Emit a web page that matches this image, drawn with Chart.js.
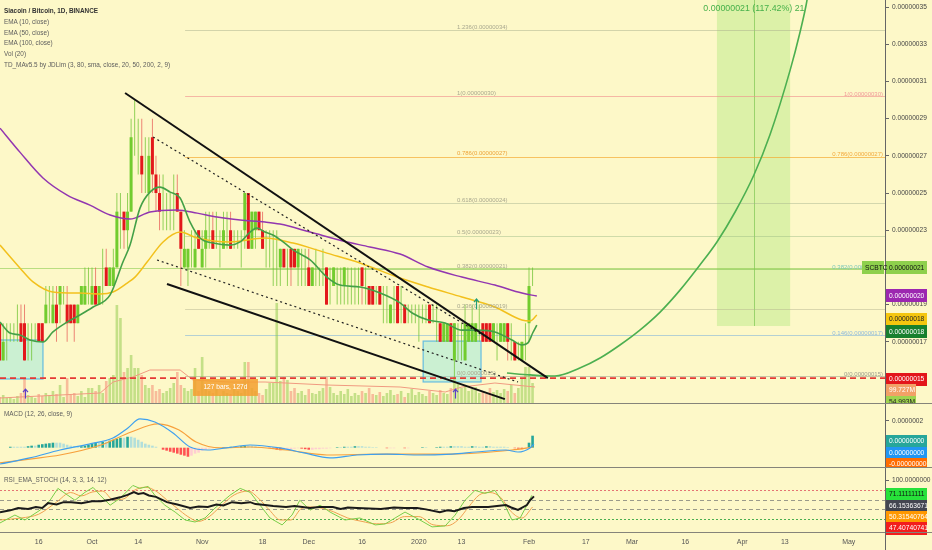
<!DOCTYPE html>
<html><head><meta charset="utf-8">
<script src="https://cdn.jsdelivr.net/npm/chart.js@4.4.1/dist/chart.umd.min.js"></script>
<style>
html,body{margin:0;padding:0;background:#fdf8c8;}
body{width:932px;height:550px;overflow:hidden;position:relative;font-family:'Liberation Sans',Arial,sans-serif;}
canvas{position:absolute;left:0;}
.sep{position:absolute;left:0;width:932px;height:1px;background:#85847a;}
.vsep{position:absolute;left:885px;top:532px;width:1px;height:18px;background:#666;}
.txt{position:absolute;left:4px;font-size:6.4px;color:#5d5d5d;white-space:nowrap;line-height:10.8px;}
.txt b{color:#333;}
</style></head><body>
<canvas id="cMain" width="932" height="403" style="top:0"></canvas>
<canvas id="cMacd" width="932" height="63" style="top:404px"></canvas>
<canvas id="cRsi" width="932" height="82" style="top:468px"></canvas>
<div class="sep" style="top:403px"></div>
<div class="sep" style="top:467px"></div>
<div class="sep" style="top:532px"></div>
<div class="vsep"></div>
<div class="txt" style="top:6px"><b>Siacoin / Bitcoin, 1D, BINANCE</b><br>EMA (10, close)<br>EMA (50, close)<br>EMA (100, close)<br>Vol (20)<br>TD_MAv5.5 by JDLim (3, 80, sma, close, 20, 50, 200, 2, 9)</div>
<div class="txt" style="top:409px">MACD (12, 26, close, 9)</div>
<div class="txt" style="top:475px">RSI_EMA_STOCH (14, 3, 3, 14, 12)</div>
<script>
// ---------- DATA (days counted from 2019-10-01; prices in satoshi = 1e-8 BTC) ----------
const FIRST_DAY = -26;
const opens  = [18,16,17,17,17,17,18,18,17,17, 17,18,18,18,19,18,19,19,20,19, 19,19,18,19,19,20,19,20,19,20,
                21,20,20,21,24,24,23,24,28,28, 27,26,25,28,26,25,24,24,24,24, 25,24,21,21,22,21,23,21,22,23,
                23,22,22,22,23,23,22,22,22,23, 25,22,23,24,23,22,22,22,22,21, 22,21,22,22,21,21,21,21,20,21,
                21,21,21,20,20,20,20,20,20,20, 20,20,21,20,20,20,19,20,19,19, 18,19,20,19,19,18,18,18,18,18,
                18,19,18,18,18,17,17,18,16,17, 17,16,17,17,17,18,18,18,18,17, 17,17,17,18,17,17,16,16,17,18, 20];
const highs  = [18,18,18,18,18,19,19,19,18,18, 18,18,18,20,20,20,20,20,20,20, 19,19,19,20,21,21,21,21,20,22,
                22,21,22,25,25,24,25,29,30,29, 29,28,28,29,27,26,26,25,25,26, 26,24,23,22,23,23,23,23,24,24,
                24,24,23,24,24,24,23,23,23,25, 25,24,24,24,24,23,23,23,23,22, 22,22,22,22,22,22,22,22,21,22,
                21,22,21,21,21,21,21,21,21,21, 21,21,21,21,20,20,20,20,20,20, 19,20,20,20,19,19,19,19,19,19,
                19,19,19,19,18,18,18,18,18,18, 18,19,18,19,18,19,18,18,18,18, 18,18,18,18,18,17,17,17,18,21, 21];
const lows   = [16,16,16,17,17,17,17,16,16,16, 17,17,17,18,18,18,17,18,19,17, 18,17,18,19,19,19,19,19,19,19,
                20,20,20,21,22,22,22,24,27,26, 25,25,24,25,24,23,23,23,23,23, 24,20,21,20,21,21,22,21,21,22,
                22,22,21,22,22,22,22,22,21,22, 22,22,22,23,22,21,21,20,20,20, 21,20,20,21,20,20,20,20,20,20,
                20,20,19,19,20,19,19,19,19,19, 19,19,19,19,19,19,19,19,18,18, 18,18,18,18,18,18,18,18,17,18,
                18,18,18,17,17,17,17,17,15,16, 16,16,17,17,17,17,17,17,17,17, 16,17,17,16,16,16,16,16,16,17, 20];
const closes = [16,17,17,17,17,17,17,16,17,17, 17,17,17,19,19,19,18,20,20,18, 18,18,19,20,20,20,20,19,20,20,
                20,21,21,24,24,23,24,28,28,28, 26,26,27,26,25,24,24,24,24,24, 24,22,22,22,22,22,22,22,23,23,
                22,22,22,23,23,22,22,22,22,25, 22,24,24,23,22,22,22,22,22,22, 21,21,21,21,22,21,21,20,21,21,
                21,21,19,20,21,20,20,21,20,20, 20,20,20,20,19,19,19,19,19,19, 19,19,18,19,18,18,18,18,18,18,
                18,18,18,18,17,18,18,17,18,17, 17,18,18,18,18,18,17,17,17,18, 17,18,18,17,17,16,16,17,17,20, 20];
const volumes = [36,48,30,36,24,42,60,150,48,36, 30,54,42,60,48,72,54,108,36,150, 48,60,42,72,36,90,90,72,108,60,
                 132,150,168,588,510,186,210,288,210,210, 168,108,90,108,72,84,60,72,90,120, 186,108,90,72,84,210,72,276,90,72,
                 60,84,48,72,60,54,84,72,60,246, 246,90,72,60,48,84,120,120,600,132, 156,138,72,90,60,72,48,84,60,54,
                 72,90,156,96,60,48,72,54,84,42, 60,48,72,60,90,54,48,66,42,60, 78,48,54,72,36,60,84,48,66,54,
                 42,72,60,48,78,60,54,90,156,120, 90,108,72,84,96,60,72,54,90,66, 78,60,84,72,108,60,90,150,216,216, 120];
const volMA = [[-25.9,30],[2.3,60],[5.9,126],[11.5,156],[16.3,198],[24.8,198],[28.4,138],[38.8,126],[48.7,126],
               [66.1,108],[86.7,96],[99.4,66],[104.1,96],[113.4,120],[124.7,96]];
const ema10 = [[-25.9,18.06],[-23.1,17.47],[-20.3,17.37],[-17.5,17.1],[-13.8,16.99],[-11,17.53],[-7,18.06],[-3.4,18.44],
               [0.3,18.87],[5.1,19.52],[8.7,21.29],[10.7,22.2],[13.5,24.19],[16.3,25.05],[19.1,25.32],[22,25.05],
               [24.8,24.73],[27.6,23.44],[30.4,22.58],[34.1,22.31],[38.8,22.2],[41.7,22.37],[44.5,22.9],[46.4,23.12],
               [48.7,22.9],[50.9,22.74],[53.8,22.37],[56.6,21.94],[61.4,21.4],[66.1,20.48],[69.8,20.05],[75.4,19.95],
               [81.1,19.62],[86.7,19.09],[90.1,18.55],[94.6,18.17],[99.4,18.01],[104.1,17.63],[108.6,17.63],
               [113.4,17.53],[118.2,17.1],[121,16.83],[122.7,16.94],[124.1,17.5],[125.2,17.9]];
const ema50 = [[-25.9,22.2],[-20.3,20.97],[-16.6,20.22],[-11,19.68],[-3.4,19.62],[2.3,19.57],[5.9,19.68],[9.9,20.16],
               [12.1,20.48],[15.5,21.29],[20,22.37],[24.8,22.9],[29.6,22.58],[38.8,22.37],[48.7,22.58],[56.6,22.31],
               [66.1,21.77],[75.4,21.24],[86.7,20.43],[94.6,19.95],[104.1,19.41],[113.4,18.87],[121,18.17],[123.3,18.12],[125.2,18.44]];
const ema100 = [[-25.9,28.49],[-20.3,27.2],[-13.8,25.81],[-7,24.89],[-0.6,24.35],[5.1,23.82],[10.7,23.6],[16.3,23.98],
                [23.9,24.09],[29.6,23.92],[35.2,23.71],[41.7,23.55],[48.7,23.44],[52.9,23.33],[61.4,22.9],[70.6,22.42],
                [78.2,22.1],[86.7,21.72],[94.6,21.02],[104.1,20.48],[113.4,20.05],[121,19.62],[125.2,19.46]];
const trendUpper = [[9.3,30.38],[128.3,15.05]];
const trendLower = [[21.1,20.11],[116.2,13.92]];
const dotUpper = [[17.2,28.01],[110.3,17.31]];
const dotLower = [[18.3,21.4],[119.9,14.84]];
const supportLevel = 15.05;
const lastPrice = 20.97;
const projectionCurve = [[116.8,15.32],[123.3,15.22],[130.3,15.16],[137.3,15.59],[143,16.13],[148.6,16.83],[154.2,17.63],
               [159.9,18.6],[165.5,19.78],[171.1,21.13],[175.9,22.37],[181,23.98],[186.3,25.97],[190.8,28.12],
               [196.5,31.61],[199.3,33.66],[201,35.11],[201.5,35.65]];
const projBox = [175.9, 196.5, 36, 17.85];   // dayFrom, dayTo, priceTop, priceBottom
const projMid = 186.3;
const projText = '0.00000021 (117.42%) 21';
const fibStartDay = 26.2;
const fibPrices = [33.75, 30.2, 26.95, 24.45, 22.7, 20.9, 18.75, 17.35, 15.15];
const fibLeftLabels = ['1.236(0.00000034)','1(0.00000030)','0.786(0.00000027)','0.618(0.00000024)','0.5(0.00000023)',
                       '0.382(0.00000021)','0.236(0.00000019)','','0(0.00000015)'];
const fibRightLabels = ['','1(0.00000030)','0.786(0.00000027)','','','0.382(0.00000021)','','0.146(0.00000017)','0(0.00000015)'];
const rangeBoxes = [[-27,-13.8,17.1,15.0],[93.2,109.5,17.04,14.84]];
const measureBox = [28.4, 46.7, 15.0, 14.09];
const measureText = '127 bars, 127d';

const macdHist = [0,0,0, 0.7,0.7,0.7,0.7,0.7,1.1,1.5, 1.5,2.2,2.6,3.0,3.3,3.7,3.7,3.7, 3.0,2.2,1.5,1.1,0.7,1.1,1.5,
  2.2,3.0,3.7,3.7,4.4,4.4, 5.2,5.9,6.7,7.4,7.4,8.1,8.1,7.4, 5.9,4.4,3.0,2.2,1.5,0.7,0,
  -1.5,-2.2,-3.0,-3.7,-4.4,-5.2,-5.9,-6.7,-5.9, -4.4,-3.7,-2.2,-1.5,-0.7,-0.4,0, 0,0.4,0.4,0.7,0.7,0.7,1.1,
  1.5,1.5,1.5,1.1,0.7,0.4, 0,-0.4, -0.7,-1.5,-1.9,-1.5,-1.5,-1.1, -0.7,-0.4,
  -0.7,-1.1,-1.5,-1.5,-1.1,-1.1,-0.7,-0.7,-0.4,0, 0.4,0.4,0.7,0.7, 0.7,1.1,1.1,1.1,0.7,0.7,0.4,0.4,0,
  0,-0.4,-0.4,-0.4,0,0,-0.4,-0.4,0,0,0,0.4,0.4,0,0,
  0.4,0.7,0.7,0.7,1.1,1.1,1.1,1.1,0.7,0.7,1.1,1.1,0.7,0.7,1.1,1.1,0.7,0.7,0.7,0.7,0.4,0,
  -0.4,-0.7,-1.1,-0.7, 3.7,8.9];
const macdLine = [[-25.9,-12.1],[-17.5,-7.6],[-9,-1.7],[-0.8,2.7],[5.9,7.2],[10.1,14.6],[13.5,21.3],[17.7,19],[22.8,10.9],
  [27.6,0.5],[32.6,-1.7],[37.7,-0.2],[44.5,2],[52.9,-0.2],[59.7,-3.9],[67,-7.6],[74.6,-5.4],[83,-4.7],[91.5,-5.4],
  [101.3,-4.7],[108.1,-3.2],[116.5,-1.7],[119.9,-3.2],[123.3,-0.2],[124.4,2.7]];
const macdSignal = [[-25.9,-11.3],[-17.5,-8.4],[-9,-5.4],[2.5,2],[11,11.6],[18.6,17.6],[24.5,13.1],[29.3,4.2],[36,-0.2],
  [44.5,0.5],[54.6,-1.7],[66.1,-5.4],[83,-4.7],[101.3,-4.7],[118.2,-1.7],[124.1,0.5]];

const rsiMain = [[-25.9,34],[-23,38],[-20.8,43],[-18,41],[-15.8,45],[-14,43],[-12.4,53],[-10,50],[-8,55],[-5.9,55],[-3,53],
  [0,57],[2.5,57],[5,60],[7.9,65],[10,70],[11.8,76],[13,72],[14.5,74],[16,69],[18,66],[21.1,55],[24,50],[27.6,43],[30,46],
  [32.6,45],[35,50],[37,48],[39.4,55],[42,53],[44.5,55],[46,51],[48.7,49],[51,47],[54.6,45],[57,47],[61.4,43],[64,45],
  [67.8,45],[70,41],[72,44],[74.6,43],[78,42],[81.3,41],[85,44],[88,43],[91.5,43],[94,40],[97.9,34],[100,38],[102,36],
  [104.7,43],[107,45],[111.5,45],[114,47],[116.5,49],[118,44],[119.9,39],[122.4,49],[123.3,59],[124.4,67]];
const rsiFast = [[-25.9,11.8],[-21.7,28.2],[-18.9,17.9],[-14.6,38.5],[-11.8,59],[-9.6,83.6],[-7.6,73.3],[-4.8,59],[-2,75.4],
  [0.3,85.6],[2.3,69.2],[5.1,48.7],[7.9,63.1],[11.5,89.7],[13.5,83.6],[15.8,87.7],[17.7,69.2],[20.5,48.7],[23.4,34.4],
  [26.2,17.9],[29,13.8],[31.8,22.1],[34.6,42.6],[38.8,69.2],[41.7,83.6],[44.5,75.4],[47.3,48.7],[50.1,22.1],[53.5,7.7],
  [56.3,28.2],[58.5,59],[61.4,38.5],[64.2,48.7],[67,34.4],[71.2,17.9],[75.4,22.1],[79.7,7.7],[82.5,9.7],[85.3,22.1],
  [88.1,34.4],[92.3,17.9],[95.7,3.6],[99.4,5.6],[102.2,28.2],[105,59],[107.8,79.5],[110.6,73.3],[113.4,79.5],[116.2,48.7],
  [118.2,17.9],[120.5,22.1],[122.4,48.7],[123.8,69.2]];
const rsiSlow = [[-25.9,18],[-20,22],[-15,30],[-10,55],[-6,75],[-3,68],[0,76],[3,78],[6,60],[9,62],[12,80],[15,86],[18,78],
  [21,60],[24,42],[27,25],[30,15],[33,25],[36,45],[40,70],[44,78],[47,62],[50,38],[53,18],[56,18],[59,42],[62,45],[65,42],
  [68,35],[72,22],[76,15],[80,10],[84,12],[88,25],[92,25],[96,8],[100,6],[103,18],[106,45],[109,70],[112,75],[115,65],
  [118,35],[121,22],[124,45]];
const rsiLevels = [80, 60, 40, 20];

const tickDays = [-15,0,13,31,48,61,76,92,104,123,139,152,167,183,195,213];
const tickLabels = ['16','Oct','14','Nov','18','Dec','16','2020','13','Feb','17','Mar','16','Apr','13','May'];
const priceTicks = [15,17,19,21,23,25,27,29,31,33,35];

// ---------- RENDER ----------
const FONT = "'Liberation Sans',Arial,sans-serif";
Chart.defaults.font.family = FONT;
Chart.defaults.font.size = 6.6;
Chart.defaults.color = '#4a4a4a';
const X_MIN = -25.9, X_MAX = 223.2;
const days = opens.map((_, i) => FIRST_DAY + i);
const pts = arr => arr.map(([x, y]) => ({x, y}));
const isUp = i => closes[i] >= opens[i];

function yAxis(min, max, ticks, fmt) {
  return {
    position: 'right', min, max,
    afterBuildTicks: s => { s.ticks = ticks.map(v => ({value: v})); },
    afterFit: s => { s.width = 47; s.paddingTop = 0; s.paddingBottom = 0; },
    grid: {drawOnChartArea: false, drawTicks: true, tickLength: 4, color: '#666'},
    border: {display: true, color: '#666'},
    ticks: {padding: 3, color: '#444', autoSkip: false, font: {size: 6.6}, callback: fmt}
  };
}
const xHidden = {type: 'linear', min: X_MIN, max: X_MAX, display: false, offset: false};
const baseOpts = {responsive: false, animation: false, events: [], layout: {padding: 0},
  plugins: {legend: {display: false}, tooltip: {enabled: false}}};

function tag(ctx, x, yc, w, bg, fg, text) {
  const h = 13;
  ctx.fillStyle = bg; ctx.fillRect(x, Math.round(yc - h / 2), w, h);
  ctx.fillStyle = fg; ctx.font = '6.7px ' + FONT; ctx.textAlign = 'left'; ctx.textBaseline = 'middle';
  ctx.fillText(text, x + 3, Math.round(yc) + 0.5);
}
function seg(ctx, x1, y1, x2, y2) { ctx.beginPath(); ctx.moveTo(x1, y1); ctx.lineTo(x2, y2); ctx.stroke(); }

const fibColors = ['rgba(170,175,140,0.5)','rgba(240,140,140,0.6)','rgba(245,165,40,0.65)','rgba(160,175,140,0.45)',
  'rgba(150,185,130,0.45)','rgba(130,195,80,0.6)','rgba(175,175,140,0.45)','rgba(120,175,220,0.55)','rgba(150,150,130,0.5)'];
const fibLeftColors = ['#a9a88f','#a9a88f','#eea43a','#a9a88f','#a9a88f','#a9a88f','#a9a88f','#a9a88f','#a9a88f'];
const fibRightColors = ['#999','#f19a9a','#f3a93c','#999','#999','#7cc7b8','#999','#8fb9dc','#9b9b8c'];

const mainDecor = {
  id: 'mainDecor',
  beforeDatasetsDraw(chart) {
    const {ctx, chartArea: a, scales: {x, y}} = chart;
    ctx.save();
    ctx.beginPath(); ctx.rect(a.left, a.top, a.right - a.left, a.bottom - a.top); ctx.clip();
    const bx1 = x.getPixelForValue(projBox[0]), bx2 = x.getPixelForValue(projBox[1]);
    const by1 = y.getPixelForValue(projBox[2]), by2 = y.getPixelForValue(projBox[3]);
    ctx.fillStyle = 'rgba(175,232,125,0.42)'; ctx.fillRect(bx1, by1, bx2 - bx1, by2 - by1);
    ctx.strokeStyle = 'rgba(110,190,70,0.6)'; ctx.lineWidth = 1;
    const mx = Math.round(x.getPixelForValue(projMid)) + 0.5; seg(ctx, mx, by1, mx, by2);
    const fx = x.getPixelForValue(fibStartDay);
    fibPrices.forEach((p, i) => {
      const yy = Math.round(y.getPixelForValue(p)) + 0.5;
      ctx.strokeStyle = fibColors[i]; ctx.lineWidth = 1; seg(ctx, fx, yy, a.right, yy);
    });
    const ly = Math.round(y.getPixelForValue(lastPrice)) + 0.5;
    ctx.strokeStyle = 'rgba(130,200,70,0.55)'; seg(ctx, a.left, ly, a.right, ly);
    rangeBoxes.forEach(b => {
      const x1 = x.getPixelForValue(b[0]), x2 = x.getPixelForValue(b[1]);
      const y1 = y.getPixelForValue(b[2]), y2 = y.getPixelForValue(b[3]);
      ctx.fillStyle = 'rgba(120,225,225,0.38)'; ctx.fillRect(x1, y1, x2 - x1, y2 - y1);
      ctx.strokeStyle = 'rgba(60,170,230,0.75)'; ctx.lineWidth = 1.2; ctx.strokeRect(x1, y1, x2 - x1, y2 - y1);
    });
    ctx.restore();
  },
  afterDatasetsDraw(chart) {
    const {ctx, chartArea: a, scales: {x, y}} = chart;
    ctx.save();
    ctx.beginPath(); ctx.rect(a.left, a.top, a.right - a.left, a.bottom - a.top); ctx.clip();
    ctx.font = '6px ' + FONT; ctx.textBaseline = 'bottom';
    const lx = x.getPixelForValue(102.7);
    fibPrices.forEach((p, i) => {
      const yy = y.getPixelForValue(p);
      if (fibLeftLabels[i]) { ctx.fillStyle = fibLeftColors[i]; ctx.textAlign = 'left'; ctx.fillText(fibLeftLabels[i], lx, yy); }
      if (fibRightLabels[i]) { ctx.fillStyle = fibRightColors[i]; ctx.textAlign = 'right'; ctx.fillText(fibRightLabels[i], a.right - 2, yy + 1); }
    });
    const m1 = x.getPixelForValue(measureBox[0]), m2 = x.getPixelForValue(measureBox[1]);
    const n1 = y.getPixelForValue(measureBox[2]), n2 = y.getPixelForValue(measureBox[3]);
    ctx.fillStyle = 'rgba(244,160,50,0.88)'; ctx.fillRect(m1, n1, m2 - m1, n2 - n1);
    ctx.fillStyle = '#fff'; ctx.font = '6.6px ' + FONT; ctx.textAlign = 'center'; ctx.textBaseline = 'middle';
    ctx.fillText(measureText, (m1 + m2) / 2, (n1 + n2) / 2);
    const arrow = (d, v1, v2, col) => {
      const ax = Math.round(x.getPixelForValue(d)) + 0.5, ay1 = y.getPixelForValue(v1), ay2 = y.getPixelForValue(v2);
      ctx.strokeStyle = col; ctx.lineWidth = 1.2; seg(ctx, ax, ay1, ax, ay2);
      ctx.beginPath(); ctx.moveTo(ax - 2.5, ay2 + 3); ctx.lineTo(ax, ay2); ctx.lineTo(ax + 2.5, ay2 + 3); ctx.stroke();
    };
    arrow(-18.9, 13.95, 14.45, '#5b3fc9'); arrow(102.1, 13.95, 14.45, '#5b3fc9'); arrow(108.1, 18.75, 19.3, '#1f9e7a');
    ctx.fillStyle = '#46b04a'; ctx.font = '8.8px ' + FONT; ctx.textAlign = 'center'; ctx.textBaseline = 'middle';
    ctx.fillText(projText, x.getPixelForValue(projMid), a.top + 9);
    ctx.restore();
  },
  afterDraw(chart) {
    const {ctx, chartArea: a, scales: {y}} = chart;
    const X0 = a.right + 1;
    ctx.save();
    tag(ctx, X0, y.getPixelForValue(19.48), 41, '#9c27b0', '#fff', '0.00000020');
    tag(ctx, X0, y.getPixelForValue(18.22), 41, '#f5c60f', '#222', '0.00000018');
    tag(ctx, X0, y.getPixelForValue(17.55), 41, '#17802e', '#fff', '0.00000018');
    tag(ctx, X0, y.getPixelForValue(15.0), 41, '#e3161b', '#fff', '0.00000015');
    tag(ctx, X0, a.bottom - 13, 30, '#f2a167', '#fff', '99.727M');
    tag(ctx, X0, a.bottom - 1, 30, '#9fd34f', '#222', '54.993M');
    const py = y.getPixelForValue(lastPrice);
    tag(ctx, X0, py, 41, '#8ed04c', '#111', '0.00000021');
    tag(ctx, a.right - 23, py, 22, '#8ed04c', '#111', 'SCBTC');
    ctx.restore();
  }
};

new Chart(document.getElementById('cMain'), {
  type: 'bar',
  data: {datasets: [
    {type: 'line', data: pts(trendUpper), borderColor: '#111', borderWidth: 2, pointRadius: 0, order: 1},
    {type: 'line', data: pts(trendLower), borderColor: '#111', borderWidth: 2, pointRadius: 0, order: 1},
    {type: 'line', data: pts(dotUpper), borderColor: '#222', borderWidth: 1.2, borderDash: [2, 3], pointRadius: 0, order: 1},
    {type: 'line', data: pts(dotLower), borderColor: '#222', borderWidth: 1.2, borderDash: [2, 3], pointRadius: 0, order: 1},
    {type: 'line', data: [{x: X_MIN, y: supportLevel}, {x: X_MAX, y: supportLevel}], borderColor: '#e53935', borderWidth: 1.6, borderDash: [6, 4], pointRadius: 0, order: 1},
    {type: 'line', data: pts(projectionCurve), borderColor: '#4caf50', borderWidth: 1.6, pointRadius: 0, cubicInterpolationMode: 'monotone', order: 1},
    {type: 'line', data: pts(ema10), borderColor: '#43a047', borderWidth: 1.6, pointRadius: 0, cubicInterpolationMode: 'monotone', order: 2},
    {type: 'line', data: pts(ema50), borderColor: '#f2c01c', borderWidth: 1.5, pointRadius: 0, cubicInterpolationMode: 'monotone', order: 2},
    {type: 'line', data: pts(ema100), borderColor: '#9236b0', borderWidth: 1.5, pointRadius: 0, cubicInterpolationMode: 'monotone', order: 2},
    {type: 'bar', data: days.map((d, i) => ({x: d, y: [opens[i], closes[i]]})),
      backgroundColor: days.map((d, i) => isUp(i) ? '#72cc2e' : '#e3181b'),
      barThickness: 3, inflateAmount: 0, grouped: false, order: 4},
    {type: 'bar', data: days.map((d, i) => ({x: d, y: [lows[i], highs[i]]})),
      backgroundColor: days.map((d, i) => isUp(i) ? 'rgba(110,195,50,0.75)' : 'rgba(228,70,70,0.65)'),
      barThickness: 1, inflateAmount: 0, grouped: false, order: 5},
    {type: 'line', yAxisID: 'yv', data: pts(volMA), borderColor: '#f09a80', borderWidth: 1, pointRadius: 0, order: 9},
    {type: 'bar', yAxisID: 'yv', data: days.map((d, i) => ({x: d, y: volumes[i]})),
      backgroundColor: days.map((d, i) => isUp(i) ? 'rgba(139,200,70,0.5)' : 'rgba(239,90,80,0.38)'),
      barThickness: 2.6, inflateAmount: 0, grouped: false, order: 10}
  ]},
  options: Object.assign({}, baseOpts, {scales: {
    x: xHidden,
    y: yAxis(13.71, 35.38, priceTicks, v => (v * 1e-8).toFixed(8)),
    yv: {display: false, min: 0, max: 2418}
  }}),
  plugins: [mainDecor]
});

// MACD
const histCol = macdHist.map((v, i) => {
  const p = i ? macdHist[i - 1] : 0;
  return v >= 0 ? (v > p ? '#26a69a' : '#b2dfdb') : (v < p ? '#ff5252' : '#ffcdd2');
});
const macdDecor = {
  id: 'macdDecor',
  afterDraw(chart) {
    const {ctx, chartArea: a} = chart; const X0 = a.right + 1;
    tag(ctx, X0, 37, 41, '#26a69a', '#fff', '0.00000000');
    tag(ctx, X0, 49, 41, '#2196f3', '#fff', '0.00000000');
    tag(ctx, X0, 60, 41, '#ff6d00', '#fff', '-0.00000000');
  }
};
new Chart(document.getElementById('cMacd'), {
  type: 'bar',
  data: {datasets: [
    {type: 'line', data: pts(macdLine), borderColor: '#3ea0ef', borderWidth: 1.2, pointRadius: 0, cubicInterpolationMode: 'monotone', order: 1},
    {type: 'line', data: pts(macdSignal), borderColor: '#f7a03c', borderWidth: 1.2, pointRadius: 0, cubicInterpolationMode: 'monotone', order: 1},
    {type: 'bar', data: days.map((d, i) => ({x: d, y: macdHist[i]})), backgroundColor: histCol,
      barThickness: 2.6, inflateAmount: 0, grouped: false, order: 2}
  ]},
  options: Object.assign({}, baseOpts, {scales: {
    x: xHidden,
    y: yAxis(-14.3, 32.37, [20], v => (v * 1e-8).toFixed(7))
  }}),
  plugins: [macdDecor]
});

// RSI
const rsiDecor = {
  id: 'rsiDecor',
  beforeDatasetsDraw(chart) {
    const {ctx, chartArea: a, scales: {y}} = chart;
    const styles = [['#e57373', [2, 2]], ['#9a9a8a', [4, 3]], ['#9a9a8a', [4, 3]], ['#4caf50', [2, 2]]];
    ctx.save();
    rsiLevels.forEach((lv, i) => {
      const yy = Math.round(y.getPixelForValue(lv)) + 0.5;
      ctx.strokeStyle = styles[i][0]; ctx.setLineDash(styles[i][1]); ctx.lineWidth = 1;
      seg(ctx, a.left, yy, a.right, yy);
    });
    ctx.restore();
  },
  afterDraw(chart) {
    const {ctx, chartArea: a} = chart; const X0 = a.right + 1;
    tag(ctx, X0, 26, 41, '#27e13a', '#111', '71.11111111');
    tag(ctx, X0, 38, 41, '#434651', '#fff', '66.15363671');
    tag(ctx, X0, 49, 41, '#ff9800', '#fff', '50.31540764');
    tag(ctx, X0, 60, 41, '#f21d1d', '#fff', '47.40740741');
  }
};
new Chart(document.getElementById('cRsi'), {
  type: 'line',
  data: {datasets: [
    {data: pts(rsiFast), borderColor: '#7acd4a', borderWidth: 1, pointRadius: 0, order: 2},
    {data: pts(rsiSlow), borderColor: '#f0a050', borderWidth: 1, pointRadius: 0, cubicInterpolationMode: 'monotone', order: 2},
    {data: pts(rsiMain), borderColor: '#1a1a1a', borderWidth: 2, pointRadius: 0, order: 1}
  ]},
  options: Object.assign({}, baseOpts, {scales: {
    x: {type: 'linear', min: X_MIN, max: X_MAX, offset: false, position: 'bottom',
      afterBuildTicks: s => { s.ticks = tickDays.map(v => ({value: v})); },
      afterFit: s => { s.height = 18; s.paddingLeft = 0; s.paddingRight = 0; },
      grid: {display: false, drawTicks: false}, border: {display: false},
      ticks: {autoSkip: false, maxRotation: 0, padding: 6, color: '#555', font: {size: 7}, callback: (v, i) => tickLabels[i]}},
    y: yAxis(-7, 125.97, [100], v => v.toFixed(7))
  }}),
  plugins: [rsiDecor]
});
</script>
</body></html>
